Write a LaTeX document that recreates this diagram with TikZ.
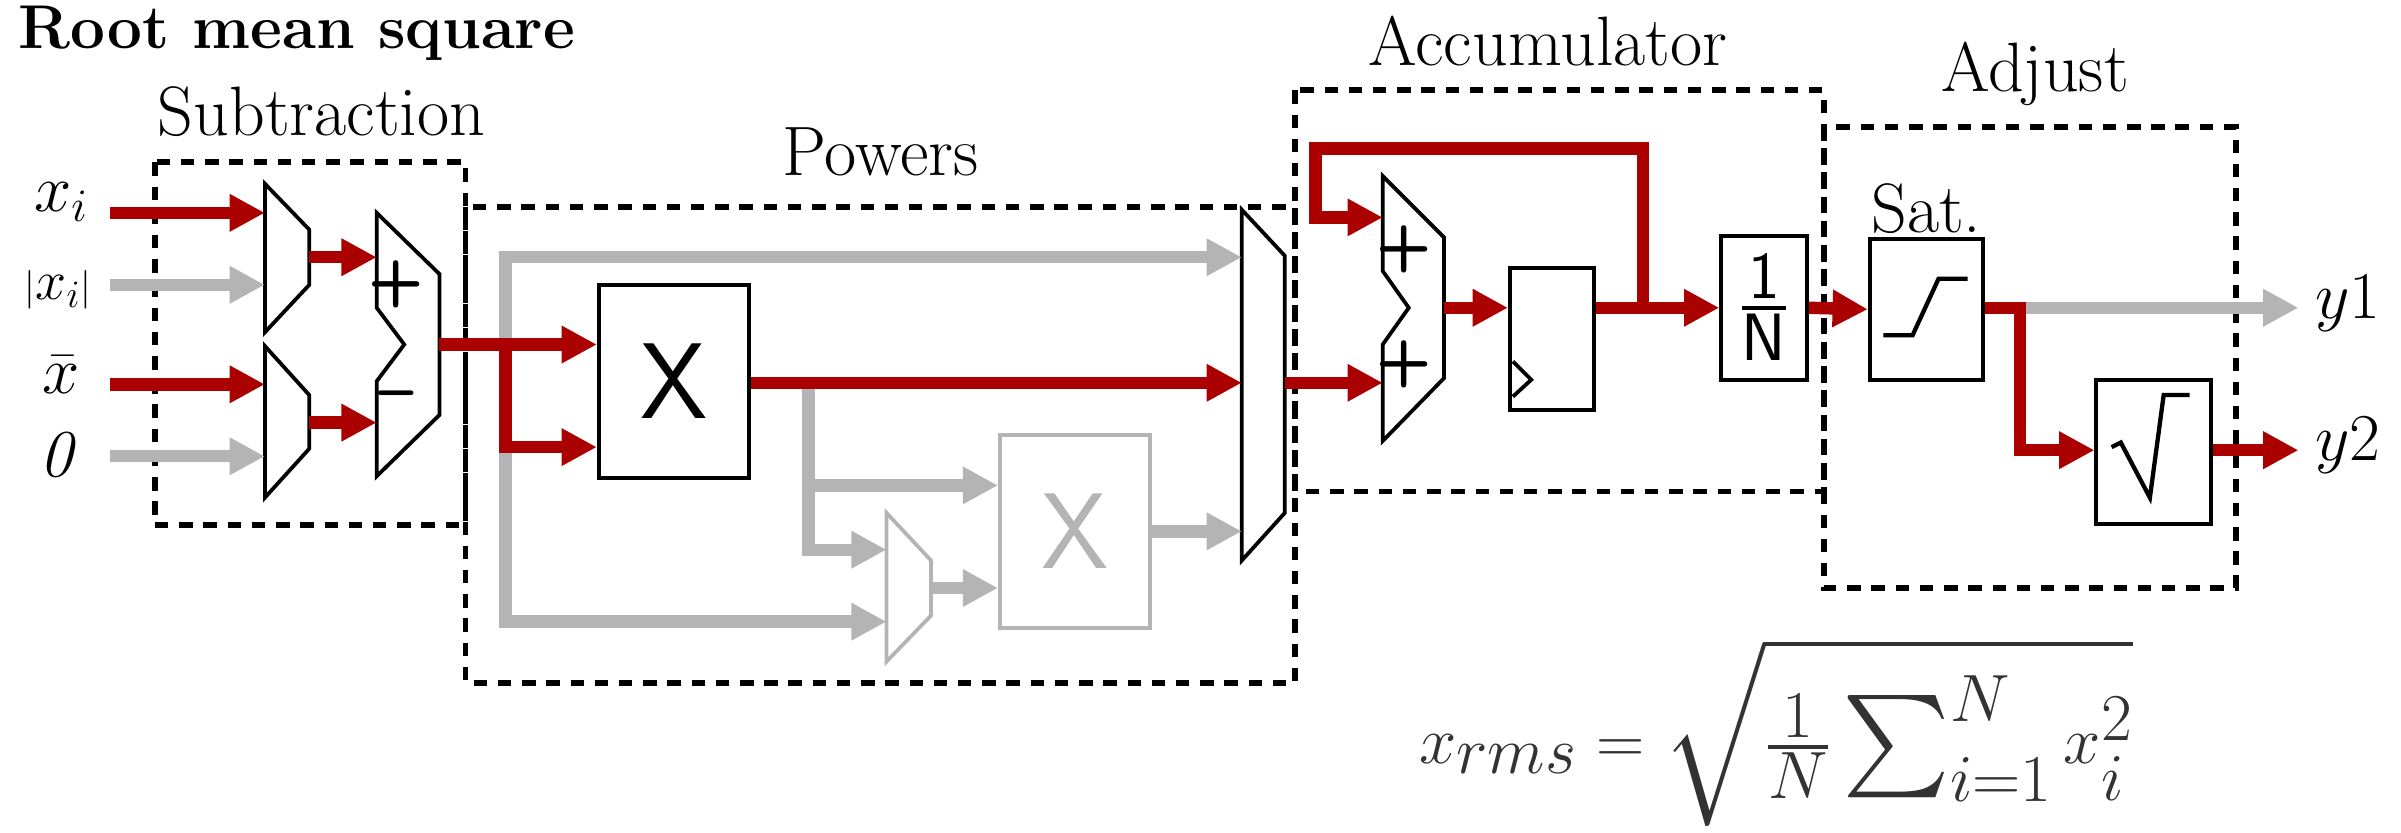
\documentclass[tikz,border=0pt]{standalone}
\usepackage{amsmath}
\usepackage{amssymb}
\usetikzlibrary{arrows.meta}
\definecolor{busred}{RGB}{170,0,0}
\definecolor{busgray}{RGB}{180,180,180}
\tikzset{
  bus/.style = {line width=4.6pt, -{Triangle[length=4.6mm,width=4.6mm]}},
  rbus/.style = {bus, busred},
  gbus/.style = {bus, busgray},
  wire/.style = {line width=4.6pt},
  blk/.style = {draw, line width=1.4pt, inner sep=0pt},
  grp/.style = {draw, line width=2.2pt, dash pattern=on 5pt off 4pt},
  lbl/.style = {font=\fontsize{26}{30}\selectfont},
  sgn/.style = {font=\fontsize{24}{24}\selectfont\sffamily\bfseries},
}
\begin{document}
\begin{tikzpicture}[x=0.2mm, y=-0.2mm]
\useasboundingbox (0,0) rectangle (1568,544);
% group boxes
\draw[grp] (101,106) rectangle (304,343);
\draw[grp] (304,135) rectangle (846,446);
\draw[grp] (846,59) rectangle (1191,321);
\draw[grp] (1191,83) rectangle (1460,384);
\node[lbl, font=\fontsize{23}{26}\selectfont\bfseries, anchor=west] (title) at (6,22) {Root mean square};
\node[lbl] (lsub) at (210,73) {Subtraction};
\node[lbl] (lpow) at (575,99) {Powers};
\node[lbl] (lacc) at (1011,27) {Accumulator};
\node[lbl] (ladj) at (1329,48) {Adjust};
% inputs
\node[lbl, inner sep=1pt] (in1) at (40,132) {$x_i$};
\node[lbl, inner sep=1pt, font=\fontsize{20}{24}\selectfont] (in2) at (38,189) {$\scriptstyle|$$x_i$$\scriptstyle|$};
\node[lbl, inner sep=1pt] (in3) at (40,245) {$\bar{x}$};
\node[lbl, inner sep=1pt] (in4) at (40,297) {$\mathit{0}$};
\coordinate (s1) at (72,139); \coordinate (s2) at (72,186);
\coordinate (s3) at (72,251); \coordinate (s4) at (72,298);
% input muxes
\draw[blk] (173,120) -- (202,150) -- (202,186) -- (173,217) -- cycle;
\draw[blk] (173,226) -- (202,258) -- (202,293) -- (173,325) -- cycle;
\coordinate (m1a) at (173,139); \coordinate (m1b) at (173,186);
\coordinate (m2a) at (173,251); \coordinate (m2b) at (173,298);
\coordinate (m1o) at (202,168); \coordinate (m2o) at (202,276);
\draw[rbus] (s1) -- (m1a);
\draw[gbus] (s2) -- (m1b);
\draw[rbus] (s3) -- (m2a);
\draw[gbus] (s4) -- (m2b);
% subtractor
\draw[blk] (246,139) -- (287,179) -- (287,271) -- (246,311) -- (246,249) -- (264,225) -- (246,201) -- cycle;
\node[sgn] (plus1) at (259,186) {+};
\node[sgn] (minus1) at (259,262) {--};
\coordinate (suba) at (246,168); \coordinate (subb) at (246,276);
\coordinate (subo) at (287,225);
\draw[rbus] (m1o) -- (suba);
\draw[rbus] (m2o) -- (subb);
% powers
\node[blk, minimum width=19.6mm, minimum height=25.2mm, font=\fontsize{40}{40}\selectfont\sffamily] (mul1) at (440,249) {X};
\node[blk, draw=busgray, minimum width=19.6mm, minimum height=25.2mm, text=busgray, font=\fontsize{40}{40}\selectfont\sffamily] (mul2) at (702,347) {X};
\draw[blk, draw=busgray] (579,335) -- (608,366) -- (608,402) -- (579,432) -- cycle;
\draw[blk] (811,137) -- (839,167) -- (839,335) -- (811,366) -- cycle;
\coordinate (sp) at (330,225);
\coordinate (sma) at (579,359); \coordinate (smb) at (579,406);
\coordinate (smo) at (608,384);
\coordinate (bma) at (811,168); \coordinate (bmb) at (811,250); \coordinate (bmc) at (811,347);
\coordinate (bmo) at (839,250);
\coordinate (br) at (528,248);
\draw[gbus] (sp) |- (bma);
\draw[gbus] (sp) |- (smb);
\draw[wire, busred] (subo) -- (sp);
\draw[rbus] (sp) -- (sp -| mul1.west);
\draw[rbus] (sp) |- ([yshift=-8.6mm]mul1.west);
\draw[gbus] (br) |- (mul2.west |- 0,317);
\draw[gbus] (br) |- (sma);
\draw[gbus] (smo) -- (smo -| mul2.west);
\draw[rbus] (mul1.east |- bmb) -- (bmb);
\draw[gbus] (mul2.east |- bmc) -- (bmc);
% accumulator
\draw[blk] (903,115) -- (943,155) -- (943,247) -- (903,288) -- (903,225) -- (920,201) -- (903,177) -- cycle;
\node[sgn] (plus2) at (917,163) {+};
\node[sgn] (plus3) at (917,238) {+};
\coordinate (adda) at (903,142); \coordinate (addb) at (903,250);
\coordinate (addo) at (943,201);
\node[blk, minimum width=11mm, minimum height=18.6mm] (reg) at (1013.5,221.5) {};
\draw[line width=1.4pt] (988,236) -- (1000,248) -- (988,259);
\node[blk, minimum width=11.2mm, minimum height=18.8mm, font=\fontsize{38}{38}\selectfont] (div) at (1152,201) {$\frac{\mathsf{1}}{\mathsf{N}}$};
\coordinate (fb) at (1073,201);
\coordinate (fbl) at (859,97);
\draw[rbus] (bmo) -- (addb);
\draw[rbus] (addo) -- (reg.west |- addo);
\draw[rbus] (reg.east |- addo) -- (div.west);
\draw[rbus] (fb) |- (fbl) |- (adda);
% adjust
\node[blk, minimum width=14.8mm, minimum height=18.4mm] (sat) at (1258,202) {};
\node[lbl, anchor=south, inner sep=1pt] (lsat) at (sat.north) {Sat.};
\draw[line width=1.6pt] (1230,219) -- (1249,219) -- (1266,182) -- (1285,182);
\node[blk, minimum width=15mm, minimum height=18.8mm] (sqr) at (1406.5,295) {};
\draw[line width=1.6pt] (1379,292) -- (1385,289) -- (1404,325) -- (1413,258) -- (1430,258);
\coordinate (sb) at (1319,201);
\coordinate (o1) at (1501,201); \coordinate (o2) at (1501,294);
\draw[rbus] (div.east) -- (sat.west);
\draw[gbus] (sb) -- (o1);
\draw[wire, busred] (sat.east |- sb) -- ([xshift=2.3pt]sb);
\draw[rbus] ([yshift=-2.3pt]sb) |- (sqr.west |- o2);
\draw[rbus] (sqr.east |- o2) -- (o2);
\node[lbl, anchor=west] (y1) at (1506,198) {$y1$};
\node[lbl, anchor=west] (y2) at (1506,291) {$y2$};
% formula
\node[font=\fontsize{38}{42}\selectfont, text=black!80] (eq) at (1160,478) {$x_{rms} = \sqrt{\frac{1}{N}\sum_{i=1}^{N} x_i^2}$};
\end{tikzpicture}
\end{document}
